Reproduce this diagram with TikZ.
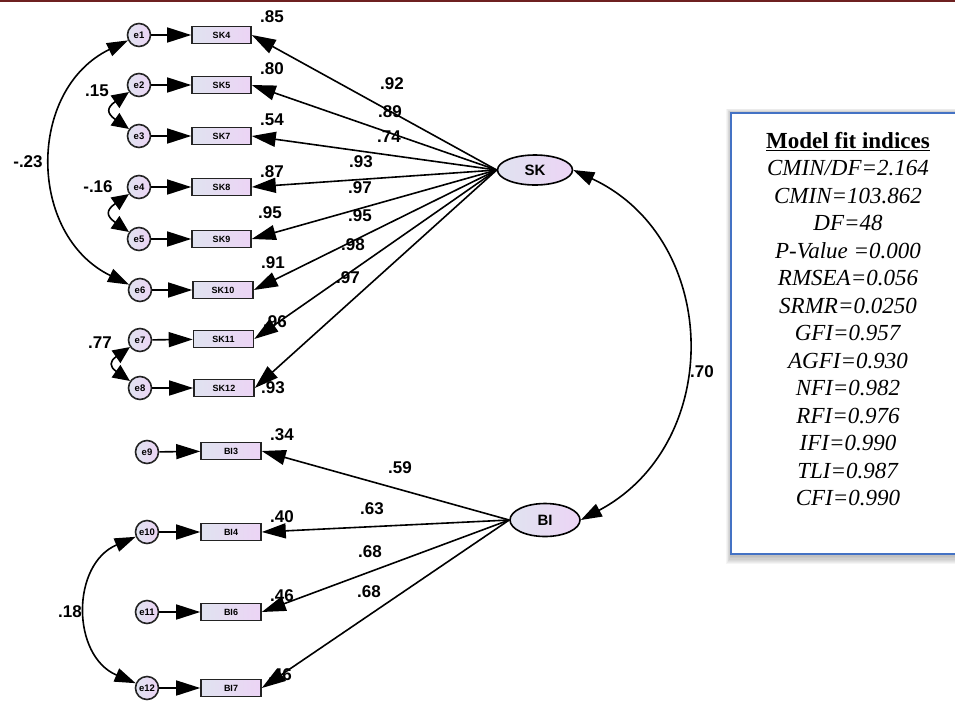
\documentclass[tikz,border=0pt]{standalone}
\usepackage{fontspec}
\setmainfont{Liberation Serif}
\newfontfamily\lsans{Liberation Sans}
\usetikzlibrary{arrows.meta,shapes.geometric}
\definecolor{hdr}{RGB}{110,32,32}
\definecolor{fillL}{RGB}{224,227,240}
\definecolor{fillR}{RGB}{236,212,245}
\definecolor{bord}{RGB}{35,35,35}
\definecolor{boxblue}{RGB}{68,114,196}
\tikzset{
 obs/.style={draw=bord, line width=1.6pt, rectangle, minimum width=59pt, minimum height=17pt, inner sep=0pt, left color=fillL, right color=fillR, font=\lsans\bfseries\fontsize{9}{9}\selectfont},
 err/.style={draw=bord, line width=1.6pt, circle, minimum size=23pt, inner sep=0pt, left color=fillL, right color=fillR, font=\lsans\bfseries\fontsize{9.5}{9.5}\selectfont},
 lat/.style={draw=black, line width=1.6pt, ellipse, minimum width=75pt, minimum height=30pt, inner sep=0pt, left color=fillL, right color=fillR, font=\lsans\bfseries\fontsize{15}{15}\selectfont},
 arr/.style={line width=1.6pt, -{Triangle[length=24pt,width=15pt]}},
 cov/.style={line width=1.6pt, {Triangle[length=21pt,width=14pt]}-{Triangle[length=21pt,width=14pt]}},
 covs/.style={line width=1.6pt, {Triangle[length=17pt,width=15pt]}-{Triangle[length=17pt,width=15pt]}},
 val/.style={font=\lsans\bfseries\fontsize{17}{17}\selectfont, inner sep=0pt},
 fitbox/.style={font=\fontsize{23}{27.5}\selectfont, inner sep=0pt, align=center},
}
\begin{document}
\begin{tikzpicture}[x=1pt,y=1pt]
\useasboundingbox (0,0) rectangle (955,-702);
% header rule
\draw[hdr, line width=1.3pt] (0,-1.1) -- (731,-1.1);
\draw[hdr, line width=2.4pt] (731,-1.2) -- (955,-1.2);

% fit box with soft shadow
\foreach \i in {1,...,7}
  \fill[black, opacity=0.04] ({731-0.7*\i}, {-113+0.6*\i}) rectangle (960, {-556-1.2*\i});
\fill[white] (731,-113) rectangle (960,-554);
\draw[boxblue, line width=1.6pt] (960,-113) -- (731,-113) -- (731,-554) -- (960,-554);
\node[fitbox] (fit) at (848,-319) {\underline{\textbf{Model fit indices}}\\
\textit{CMIN/DF=2.164}\\
\textit{CMIN=103.862}\\
\textit{DF=48}\\
\textit{P-Value =0.000}\\
\textit{RMSEA=0.056}\\
\textit{SRMR=0.0250}\\
\textit{GFI=0.957}\\
\textit{AGFI=0.930}\\
\textit{NFI=0.982}\\
\textit{RFI=0.976}\\
\textit{IFI=0.990}\\
\textit{TLI=0.987}\\
\textit{CFI=0.990}};

% latent variables
\node[lat] (SK) at (535,-170) {SK};
\node[lat, minimum width=70pt, minimum height=33pt] (BI) at (545,-520) {BI};

% observed variables
\node[obs] (SK4)  at (221.5,-35)  {SK4};
\node[obs] (SK5)  at (221.5,-85)  {SK5};
\node[obs] (SK7)  at (221.5,-136) {SK7};
\node[obs] (SK8)  at (221.5,-187) {SK8};
\node[obs] (SK9)  at (221.5,-239) {SK9};
\node[obs, minimum width=60pt] (SK10) at (223,-290) {SK10};
\node[obs, minimum width=60pt] (SK11) at (223.5,-339) {SK11};
\node[obs, minimum width=60pt] (SK12) at (224,-388) {SK12};
\node[obs, minimum width=60pt] (BI3) at (231,-451) {BI3};
\node[obs, minimum width=60pt] (BI4) at (231,-532) {BI4};
\node[obs, minimum width=60pt] (BI6) at (231,-612) {BI6};
\node[obs, minimum width=60pt] (BI7) at (231,-688) {BI7};

% error terms
\node[err] (e1) at (139,-35)  {e1};
\node[err] (e2) at (139,-85)  {e2};
\node[err] (e3) at (139,-136) {e3};
\node[err] (e4) at (139,-187) {e4};
\node[err] (e5) at (139,-239) {e5};
\node[err] (e6) at (140,-290) {e6};
\node[err] (e7) at (140,-340) {e7};
\node[err] (e8) at (140,-388) {e8};
\node[err] (e9) at (147,-452) {e9};
\node[err] (e10) at (147,-532) {e10};
\node[err] (e11) at (147,-612) {e11};
\node[err] (e12) at (147,-688) {e12};

% error -> indicator
\foreach \e/\o in {e1/SK4,e2/SK5,e3/SK7,e4/SK8,e5/SK9,e6/SK10,e7/SK11,e8/SK12,e9/BI3,e10/BI4,e11/BI6,e12/BI7}
  \draw[arr] (\e) -- (\o);

% loadings
\foreach \o in {SK4,SK5,SK7,SK8,SK9,SK10,SK11,SK12}
  \draw[arr] (SK.west) -- (\o.east);
\foreach \o in {BI3,BI4,BI6,BI7}
  \draw[arr] (BI.west) -- (\o.east);

% covariances
\draw[cov] (e1) to[out=206,in=154,looseness=1.18] (e6);
\draw[covs] (e2) to[out=215,in=145,looseness=1.9] (e3);
\draw[covs] (e4) to[out=215,in=145,looseness=1.9] (e5);
\draw[covs] (e7) to[out=215,in=145,looseness=1.9] (e8);
\draw[cov] (e10) to[out=203,in=157,looseness=1.23] (e12);
\draw[cov] (SK.east) to[out=-25,in=28,looseness=1.19] (BI.east);

% squared multiple correlations
\node[val] (r85) at (272,-17)  {.85};
\node[val] (r80) at (272,-69)  {.80};
\node[val] (r54) at (272,-120) {.54};
\node[val] (r87) at (272,-172) {.87};
\node[val] (r95) at (270,-213) {.95};
\node[val] (r91) at (273,-263) {.91};
\node[val] (r96) at (275,-322) {.96};
\node[val] (r93) at (273,-388) {.93};
\node[val] (r34) at (282,-435) {.34};
\node[val] (r40) at (282,-517) {.40};
\node[val] (r46a) at (282,-596) {.46};
\node[val] (r46b) at (280,-675) {.46};

% loading values
\node[val] (l92) at (392,-84)  {.92};
\node[val] (l89) at (390,-112) {.89};
\node[val] (l74) at (389,-137) {.74};
\node[val] (l93) at (361,-162) {.93};
\node[val] (l97a) at (360,-188) {.97};
\node[val] (l95) at (360,-216) {.95};
\node[val] (l98) at (353,-245) {.98};
\node[val] (l97b) at (348,-278) {.97};
\node[val] (l59) at (400,-468) {.59};
\node[val] (l63) at (372,-509) {.63};
\node[val] (l68a) at (370,-552) {.68};
\node[val] (l68b) at (369,-592) {.68};

% covariance values
\node[val] (c23) at (28,-162) {-.23};
\node[val] (c15) at (97,-91)  {.15};
\node[val] (c16) at (98,-187) {-.16};
\node[val] (c77) at (100,-343) {.77};
\node[val] (c18) at (70,-612) {.18};
\node[val] (c70) at (702,-372) {.70};
\end{tikzpicture}
\end{document}
